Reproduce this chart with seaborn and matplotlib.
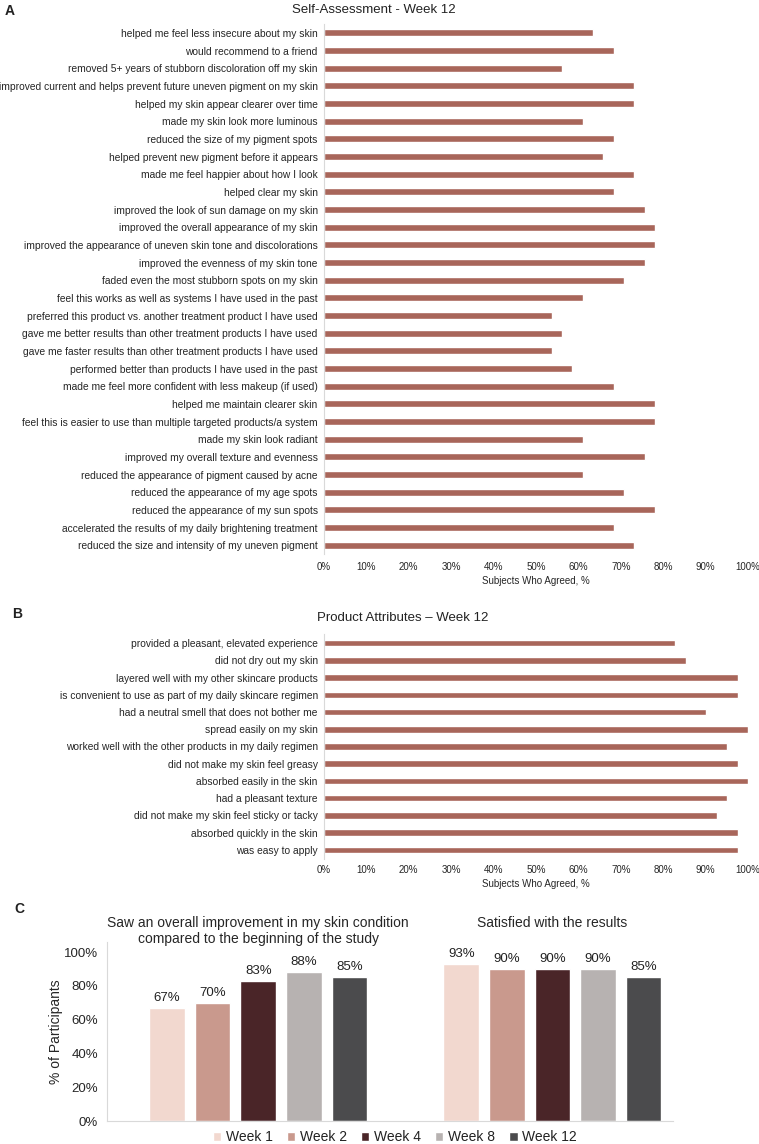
import pandas as pd
import matplotlib
matplotlib.use("Agg")
import matplotlib.pyplot as plt
import seaborn as sns

# Panel A: self-assessment statements (top to bottom) and % agreeing
self_items = [
    "helped me feel less insecure about my skin",
    "would recommend to a friend",
    "removed 5+ years of stubborn discoloration off my skin",
    "improved current and helps prevent future uneven pigment on my skin",
    "helped my skin appear clearer over time",
    "made my skin look more luminous",
    "reduced the size of my pigment spots",
    "helped prevent new pigment before it appears",
    "made me feel happier about how I look",
    "helped clear my skin",
    "improved the look of sun damage on my skin",
    "improved the overall appearance of my skin",
    "improved the appearance of uneven skin tone and discolorations",
    "improved the evenness of my skin tone",
    "faded even the most stubborn spots on my skin",
    "feel this works as well as systems I have used in the past",
    "preferred this product vs. another treatment product I have used",
    "gave me better results than other treatment products I have used",
    "gave me faster results than other treatment products I have used",
    "performed better than products I have used in the past",
    "made me feel more confident with less makeup (if used)",
    "helped me maintain clearer skin",
    "feel this is easier to use than multiple targeted products/a system",
    "made my skin look radiant",
    "improved my overall texture and evenness",
    "reduced the appearance of pigment caused by acne",
    "reduced the appearance of my age spots",
    "reduced the appearance of my sun spots",
    "accelerated the results of my daily brightening treatment",
    "reduced the size and intensity of my uneven pigment",
]
self_pct = [63.4, 68.3, 56.1, 73.2, 73.2, 61.0, 68.3, 65.9, 73.2, 68.3,
            75.6, 78.0, 78.0, 75.6, 70.7, 61.0, 53.7, 56.1, 53.7, 58.5,
            68.3, 78.0, 78.0, 61.0, 75.6, 61.0, 70.7, 78.0, 68.3, 73.2]

# Panel B: product attributes
attr_items = [
    "provided a pleasant, elevated experience",
    "did not dry out my skin",
    "layered well with my other skincare products",
    "is convenient to use as part of my daily skincare regimen",
    "had a neutral smell that does not bother me",
    "spread easily on my skin",
    "worked well with the other products in my daily regimen",
    "did not make my skin feel greasy",
    "absorbed easily in the skin",
    "had a pleasant texture",
    "did not make my skin feel sticky or tacky",
    "absorbed quickly in the skin",
    "was easy to apply",
]
attr_pct = [82.9, 85.4, 97.6, 97.6, 90.2, 100.0, 95.1, 97.6, 100.0, 95.1,
            92.7, 97.6, 97.6]

pct_ticks = list(range(0, 101, 10))
pct_tick_labels = [f"{t}%" for t in pct_ticks]

# Panel C: participants over time
questions = ["Saw an overall improvement in my skin condition\ncompared to the beginning of the study",
             "Satisfied with the results"]
weeks = ["Week 1", "Week 2", "Week 4", "Week 8", "Week 12"]
improved_pct = [67, 70, 83, 88, 85]
satisfied_pct = [93, 90, 90, 90, 85]
week_colors = ["#f2d8cf", "#c9998d", "#4a2528", "#b7b2b1", "#4b4b4d"]
part_ticks = [0, 20, 40, 60, 80, 100]

bar_color = "#a8665a"
spine_gray = "#d9d9d9"

sns.set_theme(style="white")
plt.rcParams["font.family"] = ["Liberation Sans", "DejaVu Sans"]
plt.rcParams["text.color"] = "#222222"

fig = plt.figure(figsize=(7.59, 11.44), dpi=100)
W, H = 759, 1144


def px_axes(left, top, right, bottom):
    return fig.add_axes([left / W, 1 - bottom / H, (right - left) / W, (bottom - top) / H])


def hbar_panel(ax, items, pct, tick_pad, label_pad):
    df = pd.DataFrame({"item": items, "pct": pct})
    sns.barplot(data=df, y="item", x="pct", color=bar_color, saturation=1,
                width=0.38, orient="h", ax=ax)
    ax.set_xlim(0, 100)
    ax.set_xticks(pct_ticks, pct_tick_labels)
    ax.set_ylabel("")
    ax.set_xlabel("Subjects Who Agreed, %", fontsize=7, labelpad=label_pad)
    ax.tick_params(axis="x", length=0, labelsize=7, pad=tick_pad)
    ax.tick_params(axis="y", length=0, labelsize=7.35, pad=4.5)
    for s in ["top", "right", "bottom"]:
        ax.spines[s].set_visible(False)
    ax.spines["left"].set_color(spine_gray)
    ax.spines["left"].set_linewidth(0.8)


# ---- Panel A
axA = px_axes(324, 24, 748, 554)
hbar_panel(axA, self_items, self_pct, tick_pad=5.5, label_pad=3.5)
fig.text(374 / W, 1 - 10 / H, "Self-Assessment - Week 12", fontsize=9.5,
         ha="center", va="center")
fig.text(10 / W, 1 - 11 / H, "A", fontsize=10, fontweight="bold", ha="center", va="center")

# ---- Panel B
axB = px_axes(324, 634.5, 748, 858.5)
hbar_panel(axB, attr_items, attr_pct, tick_pad=5, label_pad=2.5)
fig.text(403 / W, 1 - 618 / H, "Product Attributes \u2013 Week 12", fontsize=9.5,
         ha="center", va="center")
fig.text(17 / W, 1 - 614 / H, "B", fontsize=10, fontweight="bold", ha="center", va="center")

# ---- Panel C
axC = px_axes(107, 942, 673, 1121)
dfC = pd.DataFrame({
    "question": [questions[0]] * len(weeks) + [questions[1]] * len(weeks),
    "week": weeks + weeks,
    "pct": improved_pct + satisfied_pct,
})
sns.barplot(data=dfC, x="question", y="pct", hue="week", hue_order=weeks,
            palette=week_colors, saturation=1, width=0.775, gap=0.22, ax=axC)
for cont in axC.containers:
    axC.bar_label(cont, fmt="{:.0f}%", padding=3, fontsize=9.5, color="#222222")
axC.set_ylim(0, 106)
axC.set_xlim(-0.514, 1.41)
axC.set_yticks(part_ticks, [f"{t}%" for t in part_ticks])
axC.set_xlabel("")
axC.set_ylabel("% of Participants", fontsize=10, labelpad=0.5)
axC.tick_params(axis="y", length=0, labelsize=9.5, pad=6.5)
axC.tick_params(axis="x", length=0, labelsize=10, top=False, bottom=False,
                labeltop=True, labelbottom=False, pad=19)
for lbl in axC.get_xticklabels():
    lbl.set_verticalalignment("top")
for s in ["top", "right"]:
    axC.spines[s].set_visible(False)
for s in ["left", "bottom"]:
    axC.spines[s].set_color(spine_gray)
    axC.spines[s].set_linewidth(0.8)
sns.move_legend(axC, "center", bbox_to_anchor=(395 / W, 1 - 1137 / H),
                bbox_transform=fig.transFigure, ncol=5, title=None, frameon=False,
                fontsize=10, handlelength=0.6, handleheight=0.6,
                handletextpad=0.35, columnspacing=1.0)
fig.text(19 / W, 1 - 909 / H, "C", fontsize=10, fontweight="bold", ha="center", va="center")

fig.savefig("out.png", dpi=100)
